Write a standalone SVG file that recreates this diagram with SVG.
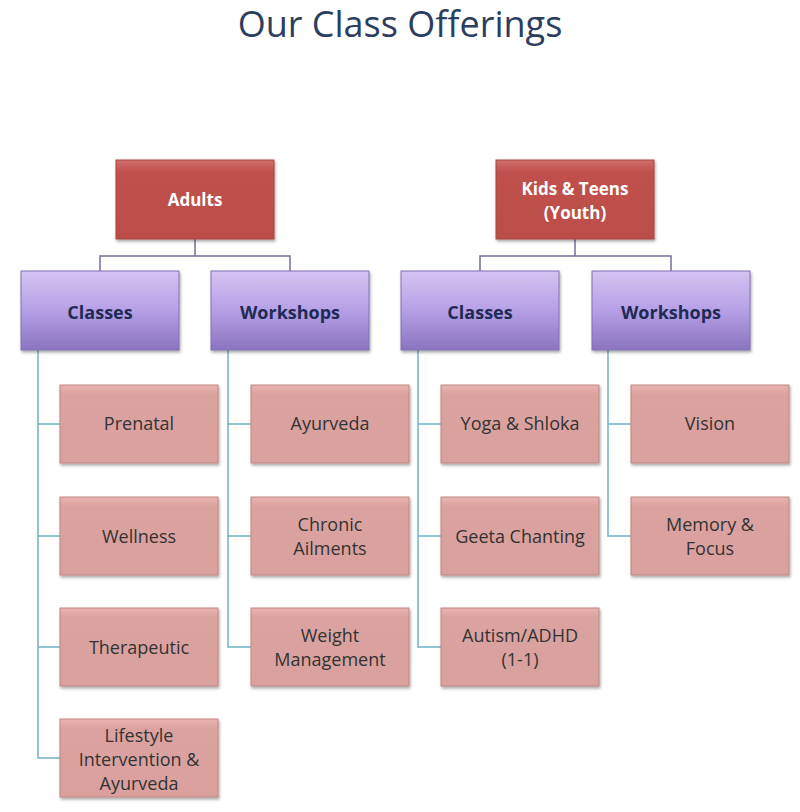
<svg xmlns="http://www.w3.org/2000/svg" width="800" height="812" viewBox="0 0 800 812">
<defs>
<linearGradient id="red" x1="0" y1="0" x2="0" y2="1"><stop offset="0" stop-color="#d0706b"/><stop offset="0.15" stop-color="#c0504d"/><stop offset="1" stop-color="#bb4e4a"/></linearGradient>
<linearGradient id="pur" x1="0" y1="0" x2="0" y2="1"><stop offset="0" stop-color="#d4c3f2"/><stop offset="0.5" stop-color="#b5a0e6"/><stop offset="1" stop-color="#8a74c0"/></linearGradient>
<linearGradient id="pink" x1="0" y1="0" x2="0" y2="1"><stop offset="0" stop-color="#e8b3b0"/><stop offset="0.12" stop-color="#dba3a0"/><stop offset="1" stop-color="#d9a09d"/></linearGradient>
<filter id="sh" x="-10%" y="-10%" width="130%" height="130%"><feDropShadow dx="1" dy="2" stdDeviation="1.5" flood-color="#000" flood-opacity="0.35"/></filter>
</defs>
<style>
.t{font-family:"Open Sans","DejaVu Sans",sans-serif;text-anchor:middle}
.top rect{fill:url(#red);stroke:#a94441;stroke-width:1;filter:url(#sh)}
.top text{fill:#fff;font-weight:bold;font-size:17px}
.mid rect{fill:url(#pur);stroke:#8070b0;stroke-width:1;filter:url(#sh)}
.mid text{fill:#1f2a55;font-weight:bold;font-size:18px}
.leaf rect{fill:url(#pink);stroke:#c08683;stroke-width:1;filter:url(#sh)}
.leaf text{fill:#333;font-size:18px}
.c1{fill:none;stroke:#7a6e96;stroke-width:1.5}
.c2{fill:none;stroke:#6fb3c6;stroke-width:1.5}
</style>
<rect width="800" height="812" fill="#fff"/>
<text class="t" x="400" y="37" font-size="36" fill="#2c3e5f">Our Class Offerings</text>
<g id="connectors">
<path class="c1" d="M195 239V256M100 271V256H290V271M575 239V256M480 271V256H671V271"/>
<path class="c2" d="M38 350V758H60M38 424H60M38 536H60M38 647H60"/>
<path class="c2" d="M228 350V647H251M228 424H251M228 536H251"/>
<path class="c2" d="M418 350V647H441M418 424H441M418 536H441"/>
<path class="c2" d="M608 350V536H631M608 424H631"/>
</g>
<g id="adults" class="top"><rect x="116" y="160" width="158" height="79"/><text class="t" x="195" y="206">Adults</text></g>
<g id="kids" class="top"><rect x="496" y="160" width="158" height="79"/><text class="t" x="575" y="195">Kids &amp; Teens</text><text class="t" x="575" y="219">(Youth)</text></g>
<g id="a-classes" class="mid"><rect x="21" y="271" width="158" height="79"/><text class="t" x="100" y="319">Classes</text></g>
<g id="a-workshops" class="mid"><rect x="211" y="271" width="158" height="79"/><text class="t" x="290" y="319">Workshops</text></g>
<g id="k-classes" class="mid"><rect x="401" y="271" width="158" height="79"/><text class="t" x="480" y="319">Classes</text></g>
<g id="k-workshops" class="mid"><rect x="592" y="271" width="158" height="79"/><text class="t" x="671" y="319">Workshops</text></g>
<g id="prenatal" class="leaf"><rect x="60" y="385" width="158" height="78"/><text class="t" x="139" y="430">Prenatal</text></g>
<g id="wellness" class="leaf"><rect x="60" y="497" width="158" height="78"/><text class="t" x="139" y="543">Wellness</text></g>
<g id="therapeutic" class="leaf"><rect x="60" y="608" width="158" height="78"/><text class="t" x="139" y="654">Therapeutic</text></g>
<g id="lifestyle" class="leaf"><rect x="60" y="719" width="158" height="78"/><text class="t" x="139" y="742">Lifestyle</text><text class="t" x="139" y="766">Intervention &amp;</text><text class="t" x="139" y="790">Ayurveda</text></g>
<g id="ayurveda" class="leaf"><rect x="251" y="385" width="158" height="78"/><text class="t" x="330" y="430">Ayurveda</text></g>
<g id="chronic" class="leaf"><rect x="251" y="497" width="158" height="78"/><text class="t" x="330" y="531">Chronic</text><text class="t" x="330" y="555">Ailments</text></g>
<g id="weight" class="leaf"><rect x="251" y="608" width="158" height="78"/><text class="t" x="330" y="642">Weight</text><text class="t" x="330" y="666">Management</text></g>
<g id="yoga" class="leaf"><rect x="441" y="385" width="158" height="78"/><text class="t" x="520" y="430">Yoga &amp; Shloka</text></g>
<g id="geeta" class="leaf"><rect x="441" y="497" width="158" height="78"/><text class="t" x="520" y="543">Geeta Chanting</text></g>
<g id="autism" class="leaf"><rect x="441" y="608" width="158" height="78"/><text class="t" x="520" y="642">Autism/ADHD</text><text class="t" x="520" y="666">(1-1)</text></g>
<g id="vision" class="leaf"><rect x="631" y="385" width="158" height="78"/><text class="t" x="710" y="430">Vision</text></g>
<g id="memory" class="leaf"><rect x="631" y="497" width="158" height="78"/><text class="t" x="710" y="531">Memory &amp;</text><text class="t" x="710" y="555">Focus</text></g>
</svg>
